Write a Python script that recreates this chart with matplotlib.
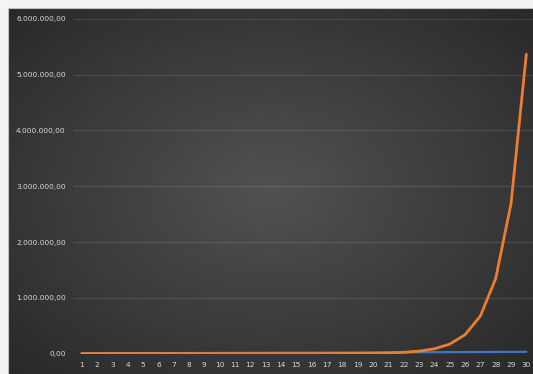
import numpy as np
import matplotlib.pyplot as plt
from matplotlib.ticker import FuncFormatter

days = list(range(1, 31))
# penny doubled every day
doubling = [0.01, 0.02, 0.04, 0.08, 0.16, 0.32, 0.64, 1.28, 2.56, 5.12,
            10.24, 20.48, 40.96, 81.92, 163.84, 327.68, 655.36, 1310.72,
            2621.44, 5242.88, 10485.76, 20971.52, 41943.04, 83886.08,
            167772.16, 335544.32, 671088.64, 1342177.28, 2684354.56,
            5368709.12]
# flat daily amount, summed
linear = [1000, 2000, 3000, 4000, 5000, 6000, 7000, 8000, 9000, 10000,
          11000, 12000, 13000, 14000, 15000, 16000, 17000, 18000, 19000,
          20000, 21000, 22000, 23000, 24000, 25000, 26000, 27000, 28000,
          29000, 30000]
y_ticks = [0, 1000000, 2000000, 3000000, 4000000, 5000000, 6000000]

W, H = 533, 374
fig = plt.figure(figsize=(W / 100, H / 100), dpi=100, facecolor='#f4f4f4')

# dark radial gradient background, Excel style
bg = fig.add_axes([8 / W, 0, 1 - 8 / W, 1 - 8 / H])
yy, xx = np.mgrid[0:1:300j, 0:1:400j]
r = np.sqrt(((xx - 0.5) / 0.75) ** 2 + ((yy - 0.5) / 0.75) ** 2)
shade = np.clip(0.32 - 0.17 * r, 0.15, 0.33)
bg.imshow(np.dstack([shade] * 3), aspect='auto', extent=[0, 1, 0, 1])
bg.set_axis_off()
fig.add_artist(plt.Line2D([8 / W, 8 / W], [0, 1 - 8 / H], color='#bfbfbf', lw=0.8))
fig.add_artist(plt.Line2D([8 / W, 1], [1 - 8 / H, 1 - 8 / H], color='#bfbfbf', lw=0.8))

left, right = 74 / W, 534 / W
bottom, top = 1 - 353.5 / H, 1 - 19 / H
ax = fig.add_axes([left, bottom, right - left, top - bottom])
ax.patch.set_alpha(0)

ax.plot(days, linear, color='#4472C4', lw=1.6, solid_capstyle='round')
ax.plot(days, doubling, color='#ED7D31', lw=2.0, solid_capstyle='round')

ax.set_xlim(0.5, 30.5)
ax.set_ylim(0, 6000000)
ax.set_xticks(days)
ax.set_yticks(y_ticks)

def fmt(v, pos):
    s = f"{v:,.2f}"
    return s.replace(',', 'X').replace('.', ',').replace('X', '.')

ax.yaxis.set_major_formatter(FuncFormatter(fmt))
ax.grid(axis='y', color='white', alpha=0.1, lw=0.9)
ax.set_axisbelow(True)
for s in ax.spines.values():
    s.set_visible(False)
ax.tick_params(length=0, labelsize=5.3, colors='#d9d9d9')
ax.tick_params(axis='y', pad=6)
ax.tick_params(axis='x', pad=6)

plt.savefig('out.png', dpi=100, facecolor=fig.get_facecolor())
